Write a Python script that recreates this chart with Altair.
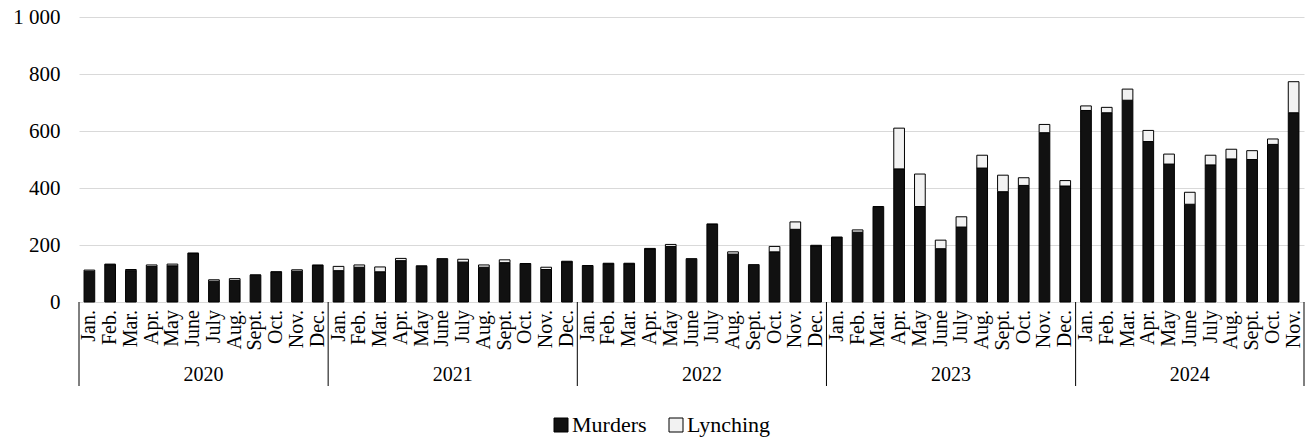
import altair as alt
import pandas as pd

# Monthly counts per year
months = ["Jan.", "Feb.", "Mar.", "Apr.", "May", "June",
          "July", "Aug.", "Sept.", "Oct.", "Nov.", "Dec."]
years = [2020, 2021, 2022, 2023, 2024]

murders_2020 = [108, 131, 110, 125, 127, 170, 73, 76, 94, 105, 108, 128]
lynching_2020 = [4, 2, 4, 5, 6, 2, 5, 6, 1, 1, 5, 2]
murders_2021 = [110, 122, 106, 145, 125, 150, 140, 122, 138, 133, 114, 141]
lynching_2021 = [15, 8, 17, 8, 2, 2, 10, 8, 10, 2, 8, 2]
murders_2022 = [126, 134, 134, 186, 195, 150, 272, 168, 129, 176, 255, 197]
lynching_2022 = [2, 2, 2, 2, 7, 2, 2, 8, 2, 19, 26, 2]
murders_2023 = [226, 245, 332, 467, 335, 187, 263, 470, 387, 409, 594, 407]
lynching_2023 = [2, 8, 3, 143, 114, 30, 36, 45, 58, 27, 29, 19]
murders_2024 = [672, 664, 708, 563, 484, 343, 481, 502, 500, 553, 664]
lynching_2024 = [16, 19, 39, 39, 35, 42, 34, 34, 31, 19, 109]

murders = murders_2020 + murders_2021 + murders_2022 + murders_2023 + murders_2024
lynching = lynching_2020 + lynching_2021 + lynching_2022 + lynching_2023 + lynching_2024
n = len(murders)
year_lengths = [12, 12, 12, 12, 11]

# Long table: each segment runs from start to end on the y scale
rows = []
for i, (m, l) in enumerate(zip(murders, lynching)):
    rows.append({"x": i + 0.5, "series": "Murders", "start": 0, "end": m})
    rows.append({"x": i + 0.5, "series": "Lynching", "start": m, "end": m + l})
bars_df = pd.DataFrame(rows)

# Month labels under each bar
month_df = pd.DataFrame({
    "x": [i + 0.5 for i in range(n)],
    "month": [months[i % 12] for i in range(n)],
})

# Year group labels and separators
bounds = [0]
for k in year_lengths:
    bounds.append(bounds[-1] + k)
years_df = pd.DataFrame({
    "x": [(bounds[j] + bounds[j + 1]) / 2 for j in range(len(years))],
    "year": [str(y) for y in years],
})
seps_df = pd.DataFrame({"x": bounds})

FONT = "Liberation Serif"
W, H = 1225, 285
x_scale = alt.Scale(domain=[0, n], nice=False, zero=False, padding=0)

bars = alt.Chart(bars_df).mark_bar(size=10.7, stroke="black", strokeWidth=1).encode(
    x=alt.X("x:Q", scale=x_scale, axis=alt.Axis(
        labels=False, ticks=False, tickSize=0, grid=False,
        domain=True, domainColor="black", domainWidth=1, title=None)),
    y=alt.Y("start:Q", scale=alt.Scale(domain=[0, 1000], nice=False), axis=alt.Axis(
        values=[0, 200, 400, 600, 800, 1000],
        labelExpr="replace(format(datum.value, ','), ',', ' ')",
        labelFont=FONT, labelFontSize=21, labelColor="black", labelPadding=19,
        ticks=False, tickSize=0, domain=False,
        grid=True, gridColor="#d9d9d9", gridWidth=1, title=None)),
    y2="end:Q",
    color=alt.Color("series:N",
                    scale=alt.Scale(domain=["Murders", "Lynching"],
                                    range=["#111111", "#f2f2f2"]),
                    legend=alt.Legend(
                        title=None, orient="none", direction="horizontal",
                        legendX=471, legendY=397,
                        symbolType="square", symbolSize=196,
                        symbolStrokeColor="black", symbolStrokeWidth=1,
                        labelFont=FONT, labelFontSize=22, labelColor="black",
                        labelOffset=0, columnPadding=18, padding=0)),
)

month_text = alt.Chart(month_df).mark_text(
    font=FONT, fontSize=20, color="black", angle=270,
    align="right", baseline="middle"
).encode(
    x=alt.X("x:Q", scale=x_scale, axis=None),
    y=alt.value(H + 8),
    text="month:N",
)

year_text = alt.Chart(years_df).mark_text(
    font=FONT, fontSize=20, color="black", baseline="middle", align="center"
).encode(
    x=alt.X("x:Q", scale=x_scale, axis=None),
    y=alt.value(358),
    text="year:N",
)

separators = alt.Chart(seps_df).mark_rule(color="black", strokeWidth=1).encode(
    x=alt.X("x:Q", scale=x_scale, axis=None),
    y=alt.value(H),
    y2=alt.value(369),
)

chart = alt.layer(bars, separators, month_text, year_text).properties(
    width=W, height=H,
    background="white",
    autosize=alt.AutoSizeParams(type="none"),
    padding={"left": 79, "top": 17, "right": 2, "bottom": 141},
).configure_view(stroke=None)

chart.save("out.html", embed_options={"renderer": "svg", "actions": False})
